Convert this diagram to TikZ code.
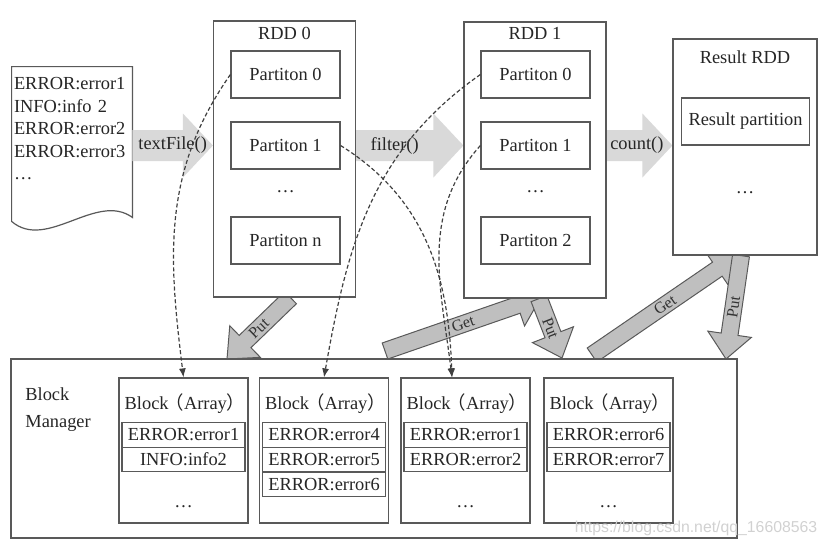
\documentclass[tikz,border=0pt]{standalone}
\usepackage{fontspec}
\setmainfont{Liberation Serif}
\setsansfont{Liberation Sans}
\newfontfamily\cjk{Noto Sans CJK SC}
\usetikzlibrary{positioning, calc, arrows.meta, backgrounds}

\newcommand{\blkname}{Block\kern-1.5pt{\cjk （}Array{\cjk ）}\kern-1.5pt}

\tikzset{
  box/.style = {draw = black!65, fill = white, line width = 0.6pt, text = black!85},
  rdd/.style = {box, minimum width = 71pt, minimum height = 138pt},
  part/.style = {box, minimum width = 54.5pt, minimum height = 23.5pt},
  blk/.style = {box, minimum width = 64.5pt, minimum height = 72.5pt},
  row/.style = {box, minimum width = 61.5pt, minimum height = 12.25pt, inner sep = 0pt},
  plain/.style = {text = black!85, inner sep = 1pt},
  gp/.style = {text = black!80, inner sep = 0pt, font = \fontsize{8}{8.5}\selectfont},
  % fat block arrow: half shaft, half head, head length
  fat/.style n args = {3}{to path = {let \p1 = (\tikztostart), \p2 = (\tikztotarget),
      \n1 = {atan2((\y2)-(\y1),(\x2)-(\x1))}, \n2 = {veclen((\x2)-(\x1),(\y2)-(\y1))} in
      ($(\p1)+({\n1+90}:#1)$) -- ($(\p1)+(\n1:{\n2-#3})+({\n1+90}:#1)$)
      -- ($(\p1)+(\n1:{\n2-#3})+({\n1+90}:#2)$) -- (\p2)
      -- ($(\p1)+(\n1:{\n2-#3})+({\n1-90}:#2)$) -- ($(\p1)+(\n1:{\n2-#3})+({\n1-90}:#1)$)
      -- ($(\p1)+({\n1-90}:#1)$) -- cycle}},
  op/.style = {fat = {7.75pt}{16pt}{15pt}, fill = black!15},
  getput/.style = {fat = {4.25pt}{11pt}{12.5pt}, fill = black!25, draw = black!65, line width = 0.5pt},
  flow/.style = {draw = black!75, dash pattern = on 2pt off 1.2pt, line width = 0.6pt,
    -{Latex[length = 4.5pt, width = 3.5pt]}}
}

\begin{document}
\begin{tikzpicture}[x = 0.5pt, y = -0.5pt, every node/.style = {font = \fontsize{9.2}{11.25}\selectfont}]
\useasboundingbox (0,0) rectangle (828,548);

% input file
\node[plain, text width = 58pt, align = left, minimum height = 62pt] (log) at (72,129)
  {ERROR:error1\\INFO:info 2\\ERROR:error2\\ERROR:error3\\…};

% RDD 0
\node[rdd] (rdd0) at (284.5,159) {};
\node[plain, below = 2pt of rdd0.north] (rdd0t) {RDD 0};
\node[part] (p00) at (285.5,74.5) {Partiton 0};
\node[part] (p01) at (285.5,145.5) {Partiton 1};
\node[plain] (dots0) at (285.5,192) {…};
\node[part] (p0n) at (285.5,240.5) {Partiton n};

% RDD 1
\node[rdd] (rdd1) at (535,160) {};
\node[plain, below = 2pt of rdd1.north] (rdd1t) {RDD 1};
\node[part] (p10) at (535.5,74.5) {Partiton 0};
\node[part] (p11) at (535.5,145.5) {Partiton 1};
\node[plain] (dots1) at (535.5,192) {…};
\node[part] (p12) at (535.5,240.5) {Partiton 2};

% result
\node[box, minimum width = 72pt, minimum height = 108pt] (res) at (745,147) {};
\node[plain, below = 5pt of res.north] (rest) {Result RDD};
\node[box, minimum width = 62.5pt, minimum height = 23.5pt] (resp) at (745.5,121.5) {Result partition};
\node[plain] (resdots) at (745,193) {…};

% block manager
\node[box, minimum width = 363pt, minimum height = 89.5pt] (bm) at (374,448.5) {};
\node[plain, align = left, anchor = west, font = \fontsize{9.2}{13.5}\selectfont] (bmt) at (23,409.5) {Block\\Manager};
\foreach \n/\x in {1/183.5, 2/324, 3/465.5, 4/608.5} {
  \node[blk] (b\n) at (\x,450.5) {};
  \node[plain, below = 7pt of b\n.north] (b\n t) {\blkname};
}
\node[row] (r11) at (183.5,435) {ERROR:error1};
\node[row] (r12) at (183.5,459.5) {INFO:info2};
\node[plain] (d1) at (183.5,507) {…};
\node[row] (r21) at (324,435) {ERROR:error4};
\node[row] (r22) at (324,459.5) {ERROR:error5};
\node[row] (r23) at (324,484.5) {ERROR:error6};
\node[row] (r31) at (465.5,435) {ERROR:error1};
\node[row] (r32) at (465.5,459.5) {ERROR:error2};
\node[plain] (d3) at (465.5,507) {…};
\node[row] (r41) at (608.5,435) {ERROR:error6};
\node[row] (r42) at (608.5,459.5) {ERROR:error7};
\node[plain] (d4) at (608.5,507) {…};

\node[font = \sffamily\fontsize{7.9}{9}\selectfont, text = black!18, inner sep = 0pt] (wm) at (696,528) {https://blog.csdn.net/qq\_16608563};

\coordinate (put0) at (227,359);
\coordinate (get1s) at (385,351);
\coordinate (get1e) at (541,297);
\coordinate (put1e) at (562,358);
\coordinate (get2s) at (592,355);
\coordinate (get2e) at (738,255);
\coordinate (put2e) at (726,359);
\coordinate (b3in) at ([xshift = -6.75pt]b3.north);

\begin{scope}[on background layer]
  \draw[box] ([yshift = -15pt]log.south west) -- (log.north west) -- (log.north east)
    -- ([yshift = -13pt]log.south east) .. controls +(-36,-26) and +(35,30) .. ([yshift = -15pt]log.south west) -- cycle;
  \path[op] (log.east |- p01) to (rdd0.west |- p01);
  \path[op] (rdd0.east |- p01) to (rdd1.west |- p11);
  \path[op] (rdd1.east |- p11) to (res.west |- p11);
  \path[getput] ([xshift = 3pt]rdd0.south) to (put0);
  \path[getput] (get1s) to (get1e);
  \path[getput] ([xshift = 2pt]rdd1.south) to (put1e);
  \path[getput] (get2s) to (get2e);
  \path[getput] ([xshift = -2pt]res.south) to (put2e);
\end{scope}

\path (log.east |- p01) -- node[plain] (optf) {textFile()} (rdd0.west |- p01);
\path (rdd0.east |- p01) -- node[plain, pos = .36] (opfl) {filter()} (rdd1.west |- p11);
\path (rdd1.east |- p11) -- node[plain, pos = .46] (opct) {count()} (res.west |- p11);
\path ([xshift = 3pt]rdd0.south) -- node[gp, sloped] (lput0) {Put} (put0);
\path (get1s) -- node[gp, sloped] (lget1) {Get} (get1e);
\path ([xshift = 2pt]rdd1.south) -- node[gp, sloped] (lput1) {Put} (put1e);
\path (get2s) -- node[gp, sloped] (lget2) {Get} (get2e);
\path ([xshift = -2pt]res.south) -- node[gp, sloped] (lput2) {Put} (put2e);

% lineage to blocks
\draw[flow] (p00.west) to[out = 235, in = 97] (b1.north);
\draw[flow] (p01.east) to[out = -32, in = 92] (b3in);
\draw[flow] (p10.west) to[out = 215, in = 80] (b2.north);
\draw[flow] (p11.west) to[out = 228, in = 97] (b3in);
\end{tikzpicture}
\end{document}
